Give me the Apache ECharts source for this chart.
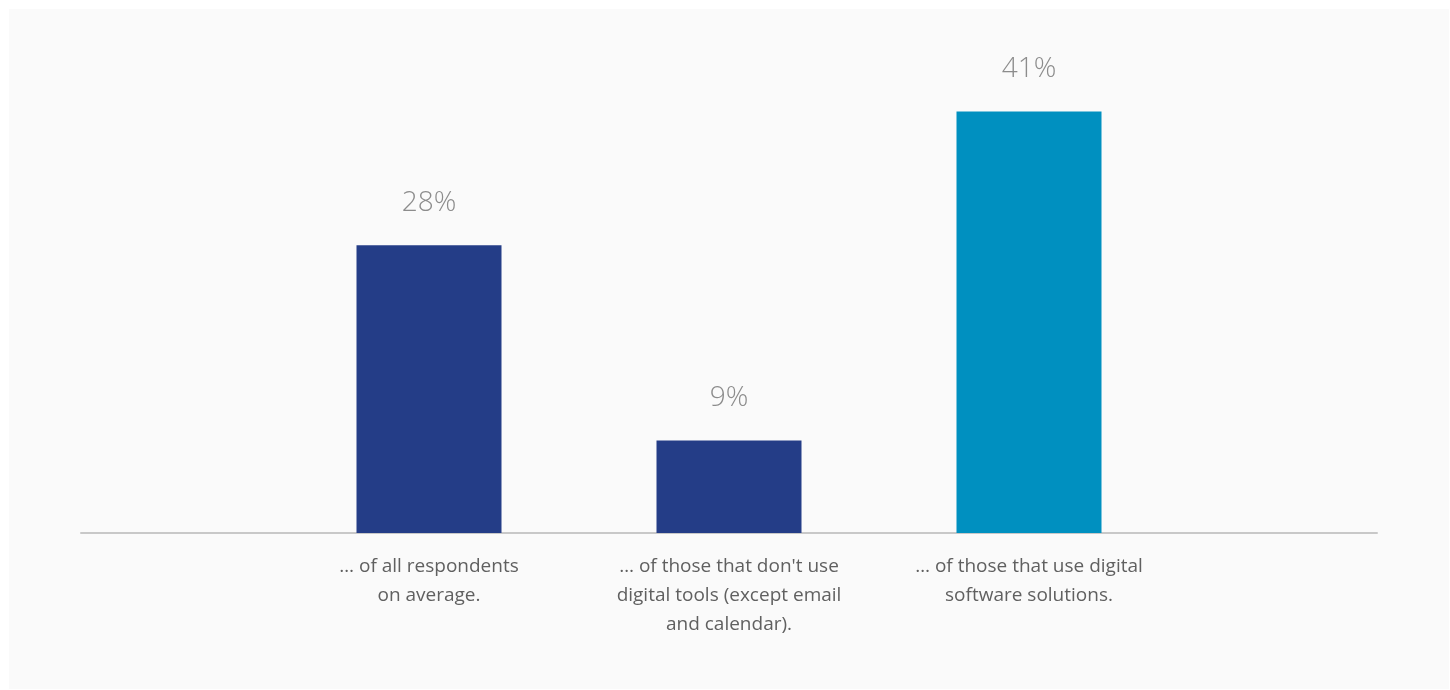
<!DOCTYPE html>
<html>
<head>
<meta charset="utf-8">
<script src="https://cdn.jsdelivr.net/npm/echarts@6/dist/echarts.min.js"></script>
<style>
  html, body { margin: 0; padding: 0; background: #ffffff; }
  #panel { position: absolute; left: 9px; top: 9px; width: 1440px; height: 680px; background: #fafafa; }
  #chart { position: absolute; left: 0; top: 0; width: 1450px; height: 690px; }
</style>
</head>
<body>
<div id="panel"></div>
<div id="chart"></div>
<script>
// Share of respondents, by group
const categories = [
  '… of all respondents\non average.',
  '… of those that don\'t use\ndigital tools (except email\nand calendar).',
  '… of those that use digital\nsoftware solutions.'
];
const values = [28, 9, 41];
const barColors = ['#243d87', '#243d87', '#0090c0'];

const chart = echarts.init(document.getElementById('chart'), null, { renderer: 'canvas' });

const font = '"Open Sans", "Noto Sans", sans-serif';

chart.setOption({
  backgroundColor: 'transparent',
  animation: false,
  grid: [
    { left: 279, width: 900, top: 19, bottom: 157 },
    { left: 81, width: 1296, top: 19, bottom: 157 }
  ],
  xAxis: [
    {
      type: 'category',
      gridIndex: 0,
      data: categories,
      axisLine: { show: false },
      axisTick: { show: false },
      axisLabel: {
        margin: 19,
        color: '#606060',
        fontFamily: font,
        fontSize: 19,
        lineHeight: 29,
        interval: 0
      }
    },
    {
      // full-width baseline
      type: 'category',
      gridIndex: 1,
      data: [''],
      axisLine: { show: true, lineStyle: { color: '#c8c8c8', width: 2 } },
      axisTick: { show: false },
      axisLabel: { show: false }
    }
  ],
  yAxis: [
    { type: 'value', gridIndex: 0, min: 0, max: 50, show: false },
    { type: 'value', gridIndex: 1, min: 0, max: 50, show: false }
  ],
  series: [
    {
      type: 'bar',
      xAxisIndex: 0,
      yAxisIndex: 0,
      barWidth: 145,
      data: values.map((v, i) => ({ value: v, itemStyle: { color: barColors[i] } })),
      label: {
        show: true,
        position: 'top',
        distance: 28,
        formatter: '{c}%',
        color: '#8c8c8c',
        fontFamily: font,
        fontWeight: 300,
        fontSize: 28
      }
    }
  ]
});
</script>
</body>
</html>
